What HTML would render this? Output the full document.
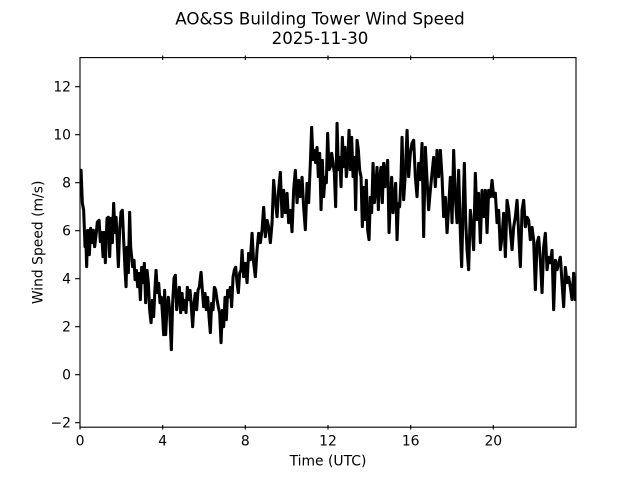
<!DOCTYPE html>
<html>
<head>
<meta charset="utf-8">
<style>
html,body{margin:0;padding:0;background:#fff;}
svg{display:block;}
text{font-family:"DejaVu Sans","Liberation Sans",sans-serif;fill:#000;}
</style>
</head>
<body>
<svg width="640" height="480" viewBox="0 0 640 480" xmlns="http://www.w3.org/2000/svg">
<rect x="0" y="0" width="640" height="480" fill="#fff"/>
<text x="320" y="24.3" font-size="16.67" text-anchor="middle">AO&amp;SS Building Tower Wind Speed</text>
<text x="320" y="44" font-size="16.67" text-anchor="middle">2025-11-30</text>
<defs>
<clipPath id="c"><rect x="80" y="57.6" width="496" height="369.6"/></clipPath>
<polyline id="ln" fill="none" stroke="#000" stroke-width="2.35" stroke-linejoin="round" stroke-linecap="square" points="
80,172 80.7,170 82,203 83.3,210 84.7,247 85.3,232 86.3,267 87.3,230 89,255 90.3,228 91.7,243 93,230 94.3,247 95.7,235 97,222 98.7,220 100,242 101.3,232 102.7,257 104,232 105,263 106.7,218 108,217 109.3,257 110.7,218 112,243 113.3,203 114.7,233 115.7,217 117,243 118,267 119.3,230 120.7,212 122,210 123.3,240 124.7,270 125.7,287 126.7,247 128,273 129.3,212 130.3,247 131.3,257 132.3,267 133.7,260 134.7,280 136,270 137.3,287 138.7,273 140,300 141.3,267 142.7,283 144,263 145.3,303 146.7,270 148,283 149.3,310 150.7,323 152,300 153.3,317 154.7,287 155.7,270 157,293 158.3,283 159.7,303 161,297 162.3,317 163.3,335 164.3,290 165.3,335 166.7,307 168,297 169.3,310 171,350 172.3,303 173.7,278 175,275 176.3,310 177.7,297
179,287 180.3,313 181.7,293 183,310 184.3,300 185.7,313 187,287 188.3,300 189.7,290 191,307 192.3,327 193.7,303 195,293 196.3,310 197.7,290 199,287 200.7,272 202,290 203.3,307 204.7,293 206,310 207.3,297 208.7,317 210,333 211.3,303 212.7,310 214,287 215.3,290 216.7,300 218,307 219.3,313 220.7,343 222,310 223.3,327 224.7,297 226,320 227.3,290 228.7,297 230,287 231.3,307 232.7,277 234,270 235.3,267 236.7,283 238,293 239.3,273
240.7,270 241.7,250 243.3,277 245,263 246.7,283 248.3,253 250,260 251.7,233 253.3,263 255,277 256.7,250 258.3,233 260,243 261.7,230 263.3,207 265,237 266.7,220 268.3,227 270,243 271.7,223 273.3,180 275,200 276.7,217 278.3,190 280,172 281.7,217 283.3,190 285,213 286.7,193 288.3,223 290,210 291.7,232 293.3,190 295,170 296.7,203 298.3,180 300,197 301.7,177 303.3,207 305,230 306.7,183 308.3,203 310,163 311.3,127 312.7,160 314,150 315.3,163 316.7,147 318,177 319.3,153 320.7,210 322,160 323.3,197 324.7,177 326,183 327.3,133 328.7,170 330,167 331.3,153 332.7,163 334,173 335.3,207 336.7,123 338,170 339.3,157 340.7,187 342,137 343.3,167 344.7,147 346,177 347.3,163 348.7,130 350,170 351.3,137 352.7,177 354,157 355.3,210 356.7,140 358,150 359.3,170 360.7,177 362,227 363.3,187 364.7,220 366,180 367.3,230 368.7,240 370,197 371.3,213 372.7,163 374,203 375.3,190 376.7,167 378,210 379.3,177 380.7,167 382,203 383.3,163 384.7,187 386,170 387.3,160 388.7,233 390,200 391.3,177 392.7,213 394,200 395.3,183 396.7,240 398,203 399.3,207 400.7,177
401.7,137 403.3,200 405,173 406.7,130 408.3,177 410,153 411.7,143 413.3,140 415,177 416.7,197 418.3,163 420,180 421.7,143 423.3,237 425,147 426.7,180 428.3,210 430,190 431.7,173 433.3,157 435,187 436.7,150 438.3,177 440,150 441.7,177 443.3,217 445,197 446.7,233 448.3,207 450,177 451.7,223 453.3,150 455,197 456.7,223 458.3,170 460,233 461.3,267 462.7,210 464,163 465.3,220 466.7,250 468.3,270 470,210 471.7,227 473.3,250 475,173 476.7,220 478.3,193 480,243 481.7,190 483.3,217 485,190 486.7,233 488.3,190 490,197 491.7,180 493.3,197 495,193 496.7,223 498.3,210 500,250 501.7,237 503.3,213 505,257 506.7,200 508.3,210 510,230 511.7,250 513.3,227 515,217 516.7,200 518.3,233 520,267 521.7,210 523.3,200 525,227 526.7,217 528.3,220 530,240 531.7,227 533.3,240 535,290 536.7,243 538.3,237 540,260 541.7,293 543.3,247 545,233 546.7,270 548.3,257 550,263 551.7,250 553.3,310 555,260 556.7,270 558.3,263 560,257 561.7,283 563.3,307 565,267 566.7,283 568.3,277 570,287 571.7,300 573.3,273 575,300 576,290"/>
</defs>
<g clip-path="url(#c)">
<use href="#ln"/>
<use href="#ln" transform="translate(0.7,0)"/>
</g>
<rect x="80" y="57.6" width="496" height="369.6" fill="none" stroke="#000" stroke-width="1.1"/>
<g stroke="#000" stroke-width="1.1">
<line x1="75.1" y1="86.7" x2="80" y2="86.7"/>
<line x1="75.1" y1="134.7" x2="80" y2="134.7"/>
<line x1="75.1" y1="182.7" x2="80" y2="182.7"/>
<line x1="75.1" y1="230.7" x2="80" y2="230.7"/>
<line x1="75.1" y1="278.7" x2="80" y2="278.7"/>
<line x1="75.1" y1="326.7" x2="80" y2="326.7"/>
<line x1="75.1" y1="374.7" x2="80" y2="374.7"/>
<line x1="75.1" y1="422.7" x2="80" y2="422.7"/>
<line x1="80" y1="425" x2="80" y2="429.5"/>
<line x1="162.7" y1="425" x2="162.7" y2="429.5"/>
<line x1="245.3" y1="425" x2="245.3" y2="429.5"/>
<line x1="328" y1="425" x2="328" y2="429.5"/>
<line x1="410.7" y1="425" x2="410.7" y2="429.5"/>
<line x1="493.3" y1="425" x2="493.3" y2="429.5"/>
<line x1="162.7" y1="55.5" x2="162.7" y2="60"/>
<line x1="245.3" y1="55.5" x2="245.3" y2="60"/>
<line x1="328" y1="55.5" x2="328" y2="60"/>
<line x1="410.7" y1="55.5" x2="410.7" y2="60"/>
<line x1="493.3" y1="55.5" x2="493.3" y2="60"/>
</g>
<g font-size="13.9" text-anchor="end">
<text x="71" y="91.7">12</text>
<text x="71" y="139.7">10</text>
<text x="71" y="187.7">8</text>
<text x="71" y="235.7">6</text>
<text x="71" y="283.7">4</text>
<text x="71" y="331.7">2</text>
<text x="71" y="379.7">0</text>
<text x="71" y="427.7">−2</text>
</g>
<g font-size="13.9" text-anchor="middle">
<text x="80" y="445.5">0</text>
<text x="162.7" y="445.5">4</text>
<text x="245.3" y="445.5">8</text>
<text x="328" y="445.5">12</text>
<text x="410.7" y="445.5">16</text>
<text x="493.3" y="445.5">20</text>
<text x="328" y="465.5">Time (UTC)</text>
<text transform="translate(42.5,242.4) rotate(-90)">Wind Speed (m/s)</text>
</g>
</svg>
</body>
</html>
